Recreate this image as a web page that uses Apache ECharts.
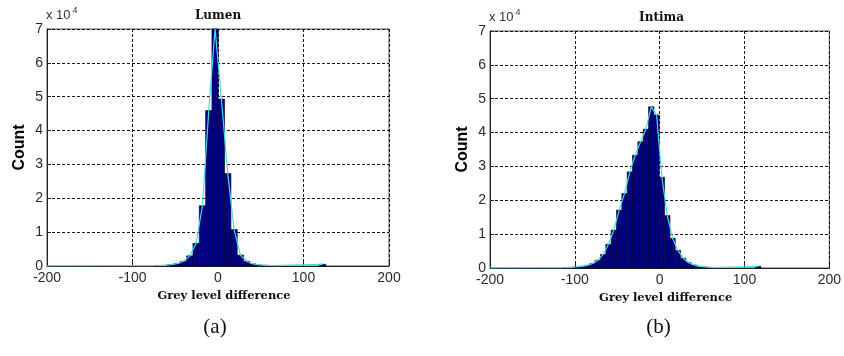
<!DOCTYPE html>
<html>
<head>
<meta charset="utf-8">
<script src="https://cdn.jsdelivr.net/npm/echarts@6/dist/echarts.min.js"></script>
<style>
  html, body { margin: 0; padding: 0; background: #fff; }
  #chart { width: 844px; height: 356px; }
</style>
</head>
<body>
<div id="chart"></div>
<script>
// Histograms of grey level differences (counts in units of 10^4)
const xTicks = [-200, -100, 0, 100, 200];
const yTicks = [0, 1, 2, 3, 4, 5, 6, 7];

// Lumen: bin centres and counts (x 10^4)
const lumenBinWidth = 7.4;
const lumenCenters = [-200, -70.0, -62.6, -55.2, -47.8, -40.4, -33.0, -25.6, -18.2, -10.8, -3.4,
                      4.0, 11.4, 18.8, 26.2, 33.6, 41.0, 48.4, 55.8, 63.2, 122.4];
const lumenCounts  = [0, 0.01, 0.02, 0.04, 0.07, 0.14, 0.30, 0.67, 1.78, 4.59, 7.0,
                      4.93, 2.73, 1.08, 0.32, 0.14, 0.06, 0.03, 0.02, 0.01, 0.05];

// Intima: bin centres and counts (x 10^4)
const intimaBinWidth = 6.3;
const intimaCenters = [-200, -110.75, -104.45, -98.15, -91.85, -85.55, -79.25, -72.95, -66.65, -60.35,
                       -54.05, -47.75, -41.45, -35.15, -28.85, -22.55, -16.25, -9.95, -3.65,
                       2.65, 8.95, 15.25, 21.55, 27.85, 34.15, 40.45, 46.75, 53.05, 59.35, 65.65, 116.05];
const intimaCounts  = [0, 0.01, 0.02, 0.03, 0.05, 0.08, 0.13, 0.23, 0.40, 0.70,
                       1.12, 1.71, 2.20, 2.84, 3.33, 3.73, 4.10, 4.76, 4.52,
                       2.68, 1.55, 0.88, 0.52, 0.29, 0.16, 0.09, 0.05, 0.03, 0.02, 0.01, 0.05];

const panels = [
  { title: 'Lumen',  caption: '(a)', centers: lumenCenters,  counts: lumenCounts,  binWidth: lumenBinWidth },
  { title: 'Intima', caption: '(b)', centers: intimaCenters, counts: intimaCounts, binWidth: intimaBinWidth }
];

const grids = [
  { left: 47,  top: 29, width: 342, height: 237 },
  { left: 490, top: 31, width: 343, height: 237 }
];

const tickFont = { color: '#2a2a2a', fontFamily: 'Liberation Sans', fontSize: 14 };

function histRenderer(binW) {
  return function (params, api) {
    const v = api.value(1);
    if (!v) return null;
    const c = api.value(0);
    const p0 = api.coord([c - binW / 2, v]);
    const p1 = api.coord([c + binW / 2, 0]);
    const cs = params.coordSys;
    const shape = echarts.graphic.clipRectByRect(
      { x: p0[0], y: p0[1], width: p1[0] - p0[0], height: p1[1] - p0[1] },
      { x: cs.x, y: cs.y, width: cs.width, height: cs.height }
    );
    return shape && {
      type: 'rect',
      shape: shape,
      style: { fill: '#000080', stroke: '#00002a', lineWidth: 0.6 }
    };
  };
}

const option = {
  animation: false,
  backgroundColor: '#fff',
  grid: grids.map(g => Object.assign({
    show: true, borderColor: '#555', borderWidth: 1, backgroundColor: '#fff'
  }, g)),
  xAxis: panels.map((p, i) => ({
    type: 'value', gridIndex: i,
    min: xTicks[0], max: xTicks[xTicks.length - 1], interval: 100,
    name: 'Grey level difference',
    nameLocation: 'middle', nameGap: 21,
    nameTextStyle: { fontFamily: 'DejaVu Serif', fontWeight: 'bold', fontSize: 11.5, color: '#111', padding: [0, 0, 0, 12] },
    axisLine: { show: true, onZero: false, lineStyle: { color: '#222', width: 1 } },
    axisTick: { show: true, inside: true, length: 4, lineStyle: { color: '#222' } },
    axisLabel: Object.assign({ margin: 5 }, tickFont),
    splitLine: { show: true, lineStyle: { color: '#111', type: [3, 2], width: 1 } }
  })),
  yAxis: panels.map((p, i) => ({
    type: 'value', gridIndex: i,
    min: yTicks[0], max: yTicks[yTicks.length - 1], interval: 1,
    name: 'Count',
    nameLocation: 'middle', nameRotate: 90, nameGap: 19,
    nameTextStyle: { fontFamily: 'Liberation Sans', fontWeight: 'bold', fontSize: 16, color: '#000' },
    axisLine: { show: true, onZero: false, lineStyle: { color: '#222', width: 1 } },
    axisTick: { show: true, inside: true, length: 4, lineStyle: { color: '#222' } },
    axisLabel: Object.assign({ margin: 4 }, tickFont),
    splitLine: { show: true, lineStyle: { color: '#111', type: [3, 2], width: 1 } }
  })),
  series: panels.flatMap((p, i) => {
    const pts = p.centers.map((c, k) => [c, p.counts[k]]);
    return [
      {
        type: 'custom', xAxisIndex: i, yAxisIndex: i,
        renderItem: histRenderer(p.binWidth),
        encode: { x: 0, y: 1 },
        data: pts, z: 2
      },
      {
        type: 'line', xAxisIndex: i, yAxisIndex: i,
        data: pts, symbol: 'none', z: 3,
        lineStyle: { color: '#45dde0', width: 1.2 }
      }
    ];
  }),
  graphic: panels.flatMap((p, i) => {
    const g = grids[i];
    const cx = g.left + g.width / 2;
    return [
      { type: 'text', x: cx, y: g.top - 7,
        style: { text: p.title, fontFamily: 'DejaVu Serif', fontWeight: 'bold', fontSize: 12,
                 fill: '#111', align: 'center', verticalAlign: 'bottom' } },
      { type: 'text', x: g.left - 1, y: g.top - 5,
        style: { text: '{b|x 10}{s|4}', align: 'left', verticalAlign: 'bottom',
                 rich: { b: { fontFamily: 'Liberation Sans', fontSize: 13, fill: '#333' },
                         s: { fontFamily: 'Liberation Sans', fontSize: 9, fill: '#333', verticalAlign: 'top', padding: [0, 0, 9, 2] } } } },
      { type: 'text', x: cx - 3, y: 327,
        style: { text: p.caption, fontFamily: 'Liberation Serif', fontSize: 21, fill: '#111',
                 align: 'center', verticalAlign: 'middle' } }
    ];
  })
};

const chart = echarts.init(document.getElementById('chart'), null, { renderer: 'canvas' });
chart.setOption(option);
</script>
</body>
</html>
